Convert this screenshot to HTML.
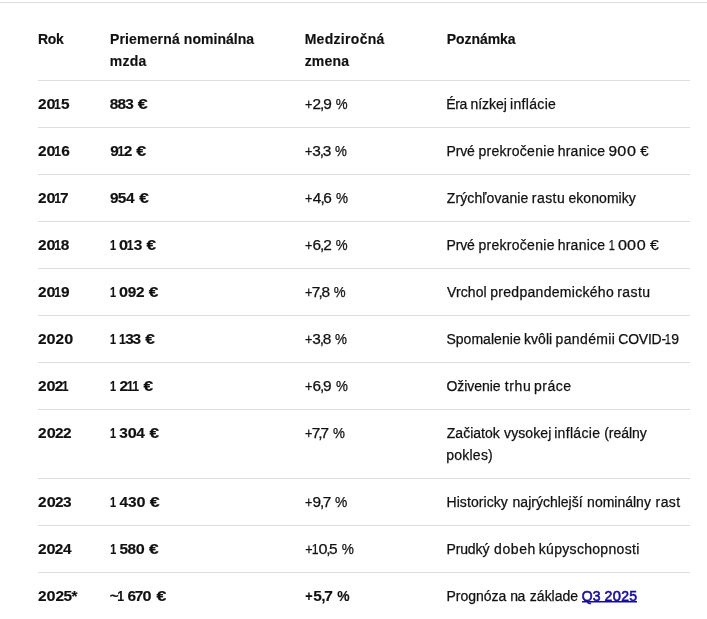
<!DOCTYPE html>
<html lang="sk">
<head>
<meta charset="utf-8">
<title>Priemerná nominálna mzda</title>
<style>
  html, body { margin: 0; padding: 0; background: #fff; }
  body { width: 707px; height: 619px; overflow: hidden; position: relative;
    font-family: "Liberation Sans", sans-serif; font-size: 14px; line-height: 22px; color: #111111; }
  .rule { position: absolute; left: 0; top: 2px; width: 707px; height: 1px; background: #dddddd; }
  table { position: absolute; left: 38px; top: 17px; width: 652px; border-collapse: separate; border-spacing: 0; table-layout: fixed; }
  th, td { text-align: left; vertical-align: top; padding: 12px 0; font-weight: 400; white-space: nowrap; border-top: 1px solid #dddddd; box-sizing: border-box; -webkit-text-stroke: 0.25px currentColor; }
  th { font-weight: 700; padding: 11px 0 8px; border-top: 0; -webkit-text-stroke: 0.15px currentColor; }
  thead tr { height: 63px; }
  tbody tr { height: 47px; }
  td.b { font-weight: 700; -webkit-text-stroke: 0.15px currentColor; }
  th span, td span, td a { display: inline-block; position: relative; white-space: pre; transform-origin: 0 50%; }
  i { font-style: normal; display: inline-block; }
  .d0 { margin: 0 0.6px; transform: scaleX(1.05); }
  .d1 { margin: 0 -0.5px 0 -1.6px; transform: scaleX(0.8); }
  .d4 { margin: 0 0.4px; }
  .d7 { margin: 0 -0.5px; }
  .dp { margin: 0 -0.7px; transform: scaleX(0.82); }
  .dc { margin: 0 -0.7px; }
  a { color: #190e96; text-decoration: none; font-weight: 400; -webkit-text-stroke: 0.6px currentColor; background: linear-gradient(#190e96 50%, rgba(25,14,150,0.5) 50%) no-repeat 0 15.75px / 100% 2px; }
</style>
</head>
<body>
<div class="rule"></div>
<table>
<colgroup><col style="width:72px"><col style="width:195px"><col style="width:141px"><col style="width:244px"></colgroup>
<thead>
<tr>
  <th><span style="letter-spacing:-0.382px">Rok</span></th>
  <th><span style="left:-0.14px;letter-spacing:0.169px">Priemerná</span> <span style="left:-0.11px;letter-spacing:0.039px">nominálna</span><br><span style="left:-0.16px;letter-spacing:0.180px">mzda</span></th>
  <th><span style="left:-0.36px;letter-spacing:0.300px">Medziročná</span><br><span style="left:-0.38px;letter-spacing:0.236px">zmena</span></th>
  <th><span style="left:0.72px;letter-spacing:-0.051px">Poznámka</span></th>
</tr>
</thead>
<tbody>
<tr>
  <td class="b"><span style="transform:translateX(-0.09px) scaleX(1.100);letter-spacing:-0.480px">2<i class="d0">0</i><i class="d1">1</i>5</span></td>
  <td class="b"><span style="transform:translateX(-0.16px) scaleX(1.100);letter-spacing:-0.742px">883</span> <span style="transform:translateX(2.70px) scaleX(1.277)">€</span></td>
  <td><span style="transform:translateX(0.27px) scaleX(1.100);letter-spacing:-0.270px"><i class="dp">+</i>2<i class="dc">,</i>9</span> <span style="transform:translateX(2.72px) scaleX(0.950)">%</span></td>
  <td><span style="left:0.29px;letter-spacing:-0.450px">Éra</span> <span style="left:0.23px;letter-spacing:-0.054px">nízkej</span> <span style="left:-0.45px;letter-spacing:0.328px">inflácie</span></td>
</tr>
<tr>
  <td class="b"><span style="transform:translateX(0.00px) scaleX(1.100);letter-spacing:-0.450px">2<i class="d0">0</i><i class="d1">1</i>6</span></td>
  <td class="b"><span style="transform:translateX(0.23px) scaleX(1.100);letter-spacing:-0.585px">9<i class="d1">1</i>2</span> <span style="transform:translateX(3.17px) scaleX(1.285)">€</span></td>
  <td><span style="transform:translateX(0.31px) scaleX(1.100);letter-spacing:-0.405px"><i class="dp">+</i>3<i class="dc">,</i>3</span> <span style="transform:translateX(2.88px) scaleX(0.954)">%</span></td>
  <td><span style="left:0.45px;letter-spacing:-0.150px">Prvé</span> <span style="left:0.36px;letter-spacing:0.284px">prekročenie</span> <span style="left:-0.54px;letter-spacing:0.225px">hranice</span> <span style="transform:translateX(-1.46px) scaleX(1.100);letter-spacing:-0.158px">9<i class="d0">0</i><i class="d0">0</i></span> <span style="transform:translateX(1.15px) scaleX(1.072)">€</span></td>
</tr>
<tr>
  <td class="b"><span style="transform:translateX(0.00px) scaleX(1.100);letter-spacing:-0.660px">2<i class="d0">0</i><i class="d1">1</i><i class="d7">7</i></span></td>
  <td class="b"><span style="transform:translateX(-0.00px) scaleX(1.100);letter-spacing:-0.720px">95<i class="d4">4</i></span> <span style="transform:translateX(3.24px) scaleX(1.233)">€</span></td>
  <td><span style="transform:translateX(0.45px) scaleX(1.100);letter-spacing:-0.540px"><i class="dp">+</i><i class="d4">4</i><i class="dc">,</i>6</span> <span style="transform:translateX(3.94px) scaleX(0.966)">%</span></td>
  <td><span style="left:0.72px;letter-spacing:0.119px">Zrýchľovanie</span> <span style="left:0.18px;letter-spacing:0.439px">rastu</span> <span style="left:-0.45px;letter-spacing:0.062px">ekonomiky</span></td>
</tr>
<tr>
  <td class="b"><span style="transform:translateX(-0.02px) scaleX(1.100);letter-spacing:-0.585px">2<i class="d0">0</i><i class="d1">1</i>8</span></td>
  <td class="b"><span style="transform:translateX(1.26px) scaleX(0.970)"><i class="d1">1</i></span> <span style="transform:translateX(-1.80px) scaleX(1.100);letter-spacing:-0.270px"><i class="d0">0</i><i class="d1">1</i>3</span> <span style="transform:translateX(1.58px) scaleX(1.230)">€</span></td>
  <td><span style="transform:translateX(0.27px) scaleX(1.100);letter-spacing:-0.270px"><i class="dp">+</i>6<i class="dc">,</i>2</span> <span style="transform:translateX(2.72px) scaleX(0.950)">%</span></td>
  <td><span style="left:0.45px;letter-spacing:-0.150px">Prvé</span> <span style="left:0.36px;letter-spacing:0.284px">prekročenie</span> <span style="left:-0.54px;letter-spacing:0.225px">hranice</span> <span style="transform:translateX(-0.13px) scaleX(0.970)"><i class="d1">1</i></span> <span style="transform:translateX(-1.80px) scaleX(1.100);letter-spacing:-0.338px"><i class="d0">0</i><i class="d0">0</i><i class="d0">0</i></span> <span style="transform:translateX(0.97px) scaleX(1.123)">€</span></td>
</tr>
<tr>
  <td class="b"><span style="transform:translateX(-0.02px) scaleX(1.100);letter-spacing:-0.510px">2<i class="d0">0</i><i class="d1">1</i>9</span></td>
  <td class="b"><span style="transform:translateX(1.26px) scaleX(0.970)"><i class="d1">1</i></span> <span style="transform:translateX(-1.96px) scaleX(1.100);letter-spacing:-0.203px"><i class="d0">0</i>92</span> <span style="transform:translateX(1.80px) scaleX(1.238)">€</span></td>
  <td><span style="transform:translateX(0.36px) scaleX(1.100);letter-spacing:-0.510px"><i class="dp">+</i><i class="d7">7</i><i class="dc">,</i>8</span> <span style="transform:translateX(2.81px) scaleX(0.950)">%</span></td>
  <td><span style="left:1.12px;letter-spacing:0.090px">Vrchol</span> <span style="left:0.61px;letter-spacing:0.297px">predpandemického</span> <span style="left:-0.09px;letter-spacing:0.428px">rastu</span></td>
</tr>
<tr>
  <td class="b"><span style="transform:translateX(-0.04px) scaleX(1.100);letter-spacing:-0.435px">2<i class="d0">0</i>2<i class="d0">0</i></span></td>
  <td class="b"><span style="transform:translateX(1.26px) scaleX(0.970)"><i class="d1">1</i></span> <span style="transform:translateX(0.36px) scaleX(1.100);letter-spacing:-1.260px"><i class="d1">1</i>33</span> <span style="transform:translateX(4.16px) scaleX(1.238)">€</span></td>
  <td><span style="transform:translateX(0.31px) scaleX(1.100);letter-spacing:-0.405px"><i class="dp">+</i>3<i class="dc">,</i>8</span> <span style="transform:translateX(3.08px) scaleX(0.958)">%</span></td>
  <td><span style="left:0.40px;letter-spacing:0.040px">Spomalenie</span> <span style="left:-0.34px;letter-spacing:0.079px">kvôli</span> <span style="left:-1.08px;letter-spacing:0.386px">pandémii</span> <span style="left:-2.02px;letter-spacing:-0.238px">COVID-<i class="d1">1</i>9</span></td>
</tr>
<tr>
  <td class="b"><span style="transform:translateX(-0.02px) scaleX(1.100);letter-spacing:-0.735px">2<i class="d0">0</i>2<i class="d1">1</i></span></td>
  <td class="b"><span style="transform:translateX(1.26px) scaleX(0.970)"><i class="d1">1</i></span> <span style="transform:translateX(-0.56px) scaleX(1.100);letter-spacing:-0.405px">2<i class="d1">1</i><i class="d1">1</i></span> <span style="transform:translateX(2.48px) scaleX(1.239)">€</span></td>
  <td><span style="transform:translateX(0.36px) scaleX(1.100);letter-spacing:-0.360px"><i class="dp">+</i>6<i class="dc">,</i>9</span> <span style="transform:translateX(4.05px) scaleX(0.955)">%</span></td>
  <td><span style="left:0.50px;letter-spacing:-0.051px">Oživenie</span> <span style="left:0.90px;letter-spacing:0.600px">trhu</span> <span style="left:-0.27px;letter-spacing:0.473px">práce</span></td>
</tr>
<tr>
  <td class="b"><span style="transform:translateX(0.09px) scaleX(1.100);letter-spacing:-0.660px">2<i class="d0">0</i>22</span></td>
  <td class="b"><span style="transform:translateX(1.26px) scaleX(0.970)"><i class="d1">1</i></span> <span style="transform:translateX(-0.79px) scaleX(1.100);letter-spacing:-0.787px">3<i class="d0">0</i><i class="d4">4</i></span> <span style="transform:translateX(3.58px) scaleX(1.226)">€</span></td>
  <td><span style="transform:translateX(0.43px) scaleX(1.100);letter-spacing:-0.615px"><i class="dp">+</i><i class="d7">7</i><i class="dc">,</i><i class="d7">7</i></span> <span style="transform:translateX(4.05px) scaleX(0.955)">%</span></td>
  <td><span style="left:0.76px;letter-spacing:0.026px">Začiatok</span> <span style="left:1.06px;letter-spacing:0.083px">vysokej</span> <span style="letter-spacing:0.321px">inflácie</span> <span style="left:-0.07px;letter-spacing:-0.030px">(reálny</span><br><span style="left:0.25px;letter-spacing:0.233px">pokles)</span></td>
</tr>
<tr>
  <td class="b"><span style="transform:translateX(0.09px) scaleX(1.100);letter-spacing:-0.660px">2<i class="d0">0</i>23</span></td>
  <td class="b"><span style="transform:translateX(1.26px) scaleX(0.970)"><i class="d1">1</i></span> <span style="transform:translateX(-0.90px) scaleX(1.100);letter-spacing:-0.450px"><i class="d4">4</i>3<i class="d0">0</i></span> <span style="transform:translateX(2.63px) scaleX(1.272)">€</span></td>
  <td><span style="transform:translateX(0.29px) scaleX(1.100);letter-spacing:-0.255px"><i class="dp">+</i>9<i class="dc">,</i><i class="d7">7</i></span> <span style="transform:translateX(3.06px) scaleX(0.986)">%</span></td>
  <td><span style="left:0.49px;letter-spacing:0.080px">Historicky</span> <span style="left:1.19px">najrýchlejší</span> <span style="left:1.80px">nominálny</span> <span style="left:2.57px;letter-spacing:0.420px">rast</span></td>
</tr>
<tr>
  <td class="b"><span style="transform:translateX(-0.02px) scaleX(1.100);letter-spacing:-0.735px">2<i class="d0">0</i>2<i class="d4">4</i></span></td>
  <td class="b"><span style="transform:translateX(1.39px) scaleX(0.970)"><i class="d1">1</i></span> <span style="transform:translateX(-0.49px) scaleX(1.100);letter-spacing:-0.608px">58<i class="d0">0</i></span> <span style="transform:translateX(2.99px) scaleX(1.238)">€</span></td>
  <td><span style="transform:translateX(0.52px) scaleX(1.100);letter-spacing:-0.664px"><i class="dp">+</i><i class="d1">1</i><i class="d0">0</i><i class="dc">,</i>5</span> <span style="transform:translateX(4.81px) scaleX(0.974)">%</span></td>
  <td><span style="left:0.45px;letter-spacing:-0.117px">Prudký</span> <span style="left:1.31px;letter-spacing:0.600px">dobeh</span> <span style="left:0.18px;letter-spacing:0.308px">kúpyschopnosti</span></td>
</tr>
<tr>
  <td class="b"><span style="transform:translateX(-0.04px) scaleX(1.100);letter-spacing:-0.439px">2<i class="d0">0</i>25*</span></td>
  <td class="b"><span style="transform:translateX(-0.23px) scaleX(1.100);letter-spacing:-0.720px">~<i class="d1">1</i></span> <span style="transform:translateX(1.42px) scaleX(1.100);letter-spacing:-0.675px">6<i class="d7">7</i><i class="d0">0</i></span> <span style="transform:translateX(4.48px) scaleX(1.272)">€</span></td>
  <td class="b"><span style="transform:translateX(0.61px) scaleX(1.100);letter-spacing:0.105px"><i class="dp">+</i>5<i class="dc">,</i><i class="d7">7</i></span> <span style="transform:translateX(4.34px) scaleX(0.990)">%</span></td>
  <td><span style="left:0.43px;letter-spacing:0.006px">Prognóza</span> <span style="left:0.36px;letter-spacing:-0.450px">na</span> <span style="left:1.42px;letter-spacing:-0.008px">základe</span> <a href="#" style="left:1.22px;letter-spacing:0.045px">Q3 2<i class="d0">0</i>25</a></td>
</tr>
</tbody>
</table>
</body>
</html>
